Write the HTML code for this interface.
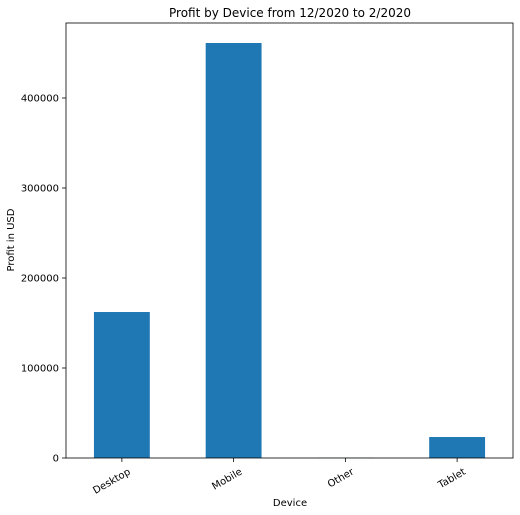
<!DOCTYPE html>
<html><head><meta charset="utf-8"><style>
html,body{margin:0;padding:0;background:#fff;}
svg{display:block;font-family:"DejaVu Sans","Liberation Sans",sans-serif;}
</style></head><body>
<svg id="chart" width="520" height="515">
<text x="290" y="17" font-size="12" text-anchor="middle" fill="#000">Profit by Device from 12/2020 to 2/2020</text>
<text transform="translate(14,240) rotate(-90)" font-size="10" text-anchor="middle">Profit in USD</text>
<text x="290" y="506" font-size="10" text-anchor="middle">Device</text>
<g id="bars"></g><g id="axes"></g>
</svg>
<script>
const categories = ["Desktop","Mobile","Other","Tablet"];
const profits = [162200, 461100, 300, 23300];
const yTicks = [0,100000,200000,300000,400000];
const L=66,R=513,T=23,B=458;
const y=v=>B-v*90/100000;
const step=(R-L)/categories.length;
const xc=i=>L+step*(i+0.5);
const NS="http://www.w3.org/2000/svg";
const bars=document.getElementById('bars'), axes=document.getElementById('axes');
function mk(tag,attrs,parent){const e=document.createElementNS(NS,tag);for(const k in attrs)e.setAttribute(k,attrs[k]);parent.appendChild(e);return e;}
profits.forEach((v,i)=>{
  const r=mk('rect',{x:xc(i)-step/4,y:y(v),width:step/2,height:B-y(v),fill:'#1f77b4'},bars);
  
  
  const t=mk('line',{x1:xc(i),x2:xc(i),y1:B,y2:B+4,stroke:'#000','stroke-width':0.8},axes);
  
  
  const lb=mk('text',{transform:`translate(${xc(i)+6},${B+10}) rotate(-30)`,'font-size':10,'text-anchor':'end','dominant-baseline':'hanging'},axes);
  lb.textContent=categories[i];
  
  
});
yTicks.forEach(v=>{
  const t=mk('line',{x1:L-4,x2:L,y1:y(v),y2:y(v),stroke:'#000','stroke-width':0.8},axes);
  
  
  const lb=mk('text',{x:L-7,y:y(v)+3.5,'font-size':10,'text-anchor':'end'},axes);
  lb.textContent=v;
  
  
});
const f=mk('rect',{x:L,y:T,width:R-L,height:B-T,fill:'none',stroke:'#000','stroke-width':0.8},axes);


</script>
</body></html>
